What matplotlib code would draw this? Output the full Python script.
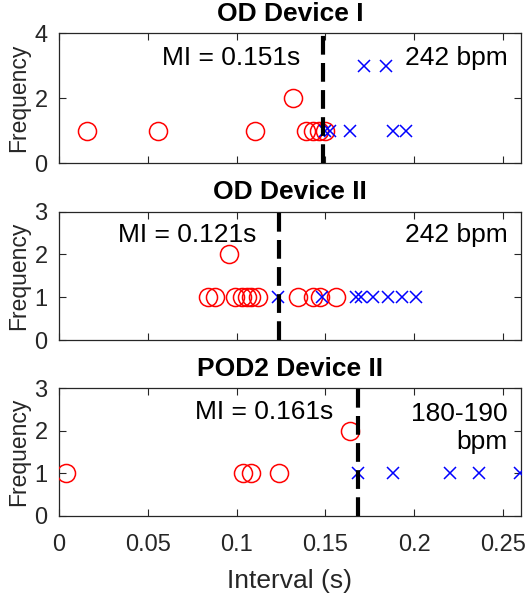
import numpy as np
import matplotlib
matplotlib.use('Agg')
import matplotlib.pyplot as plt

plt.rcParams['font.family'] = ['Liberation Sans', 'DejaVu Sans']

# panel 1 : OD Device I
t1 = 'OD Device I'
c1_x = [0.0157, 0.056, 0.1104, 0.139, 0.143, 0.1464, 0.1496, 0.1318]
c1_y = [1, 1, 1, 1, 1, 1, 1, 2]
x1_x = [0.1495, 0.1524, 0.1636, 0.188, 0.1955, 0.1717, 0.1839]
x1_y = [1, 1, 1, 1, 1, 3, 3]
mi1 = 0.1487
lab1 = 'MI = 0.151s'
bpm1 = '242 bpm'

# panel 2 : OD Device II
t2 = 'OD Device II'
c2_x = [0.0841, 0.0878, 0.099, 0.1028, 0.1056, 0.1084, 0.1121, 0.1346, 0.143, 0.1468, 0.1558, 0.0958]
c2_y = [1, 1, 1, 1, 1, 1, 1, 1, 1, 1, 1, 2]
x2_x = [0.1232, 0.1478, 0.1674, 0.1702, 0.1767, 0.1852, 0.1933, 0.2011]
x2_y = [1, 1, 1, 1, 1, 1, 1, 1]
mi2 = 0.1238
lab2 = 'MI = 0.121s'
bpm2 = '242 bpm'

# panel 3 : POD2 Device II
t3 = 'POD2 Device II'
c3_x = [0.0041, 0.1037, 0.1084, 0.1239, 0.1636]
c3_y = [1, 1, 1, 1, 2]
x3_x = [0.1683, 0.188, 0.2198, 0.2361, 0.2596]
x3_y = [1, 1, 1, 1, 1]
mi3 = 0.1683
lab3 = 'MI = 0.161s'
bpm3 = '180-190\nbpm'

xticks = [0, 0.05, 0.1, 0.15, 0.2, 0.25]
xticklabels = ['0', '0.05', '0.1', '0.15', '0.2', '0.25']

panels = [
    (t1, c1_x, c1_y, x1_x, x1_y, mi1, lab1, bpm1, 4, [0, 2, 4], (0.0579, 3.24), (0.2525, 3.24)),
    (t2, c2_x, c2_y, x2_x, x2_y, mi2, lab2, bpm2, 3, [0, 1, 2, 3], (0.0335, 2.45), (0.2525, 2.45)),
    (t3, c3_x, c3_y, x3_x, x3_y, mi3, lab3, bpm3, 3, [0, 1, 2, 3], (0.0766, 2.45), (0.2525, 2.06)),
]
rects = [[0.111, 0.728, 0.874, 0.2167],
         [0.111, 0.4333, 0.874, 0.2139],
         [0.111, 0.14, 0.874, 0.2128]]

fig = plt.figure(figsize=(5.29, 6), dpi=100)
for i, p in enumerate(panels):
    title, cx, cy, xx, xy, mi, lab, bpm, ymax, yt, pos1, pos2 = p
    ax = fig.add_axes(rects[i])
    ax.plot(cx, cy, 'o', ms=13, mfc='none', mec='red', mew=1.1, zorder=3)
    ax.plot(xx, xy, 'x', ms=9, color='blue', mew=1.1, zorder=3)
    ax.plot([mi, mi], [0, ymax], color='black', lw=3, dashes=(4.5, 2), zorder=4)
    ax.text(pos1[0], pos1[1], lab, fontsize=19, ha='left', va='center')
    ax.text(pos2[0], pos2[1], bpm, fontsize=19, ha='right', va='center',
            multialignment='right', linespacing=1.2)
    ax.set_xlim(0, 0.26)
    ax.set_ylim(0, ymax)
    ax.set_yticks(yt)
    ax.set_xticks(xticks)
    if i == 2:
        ax.set_xticklabels(xticklabels)
        ax.set_xlabel('Interval (s)', fontsize=19, color='#262626', labelpad=9)
    else:
        ax.set_xticklabels([])
    ax.set_ylabel('Frequency', fontsize=16.5, color='#262626', labelpad=3)
    ax.set_title(title, fontsize=19, fontweight='bold', pad=9)
    ax.tick_params(direction='in', top=True, right=True, labelsize=17,
                   length=5, width=0.8, colors='#262626')
    ax.tick_params(axis='x', pad=13)
    ax.tick_params(axis='y', pad=8)
    for s in ax.spines.values():
        s.set_color('#262626')
        s.set_linewidth(0.9)

fig.savefig('out.png', dpi=100)
